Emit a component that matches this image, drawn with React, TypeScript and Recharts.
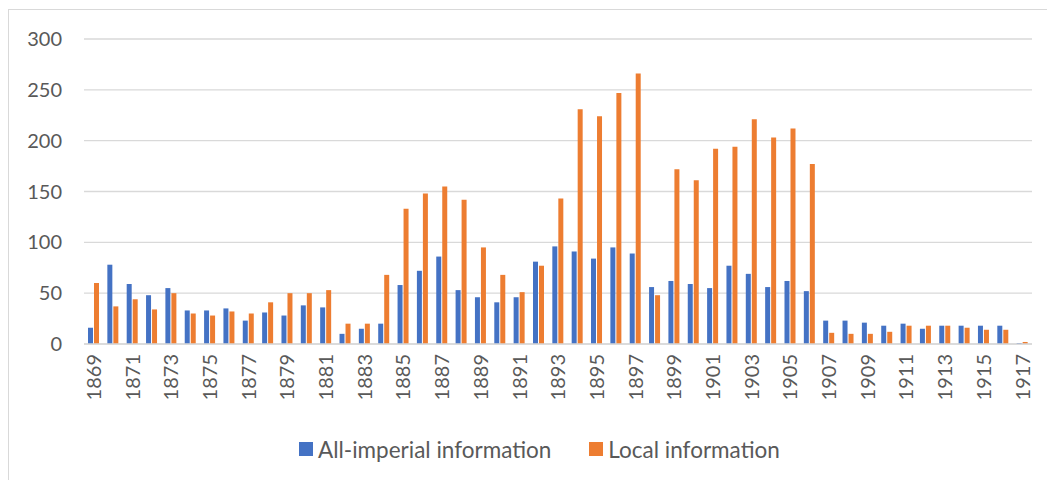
import React from "react";
import { BarChart, Bar, XAxis, YAxis, CartesianGrid } from "recharts";

const years = [
  "1869", "1870", "1871", "1872", "1873", "1874", "1875", "1876", "1877", "1878",
  "1879", "1880", "1881", "1882", "1883", "1884", "1885", "1886", "1887", "1888",
  "1889", "1890", "1891", "1892", "1893", "1894", "1895", "1896", "1897", "1898",
  "1899", "1900", "1901", "1902", "1903", "1904", "1905", "1906", "1907", "1908",
  "1909", "1910", "1911", "1912", "1913", "1914", "1915", "1916", "1917",
];

const allImperial = [
  16, 78, 59, 48, 55, 33, 33, 35, 23, 31,
  28, 38, 36, 10, 15, 20, 58, 72, 86, 53,
  46, 41, 46, 81, 96, 91, 84, 95, 89, 56,
  62, 59, 55, 77, 69, 56, 62, 52, 23, 23,
  21, 18, 20, 15, 18, 18, 18, 18, 1,
];

const local = [
  60, 37, 44, 34, 50, 30, 28, 32, 30, 41,
  50, 50, 53, 20, 20, 68, 133, 148, 155, 142,
  95, 68, 51, 77, 143, 231, 224, 247, 266, 48,
  172, 161, 192, 194, 221, 203, 212, 177, 11, 10,
  10, 12, 18, 18, 18, 16, 14, 14, 2,
];

const yTicks = [0, 50, 100, 150, 200, 250, 300];

const BLUE = "#4472C4";
const ORANGE = "#ED7D31";
const FONT = "Lato, 'Liberation Sans', sans-serif";

const data = years.map((y, i) => ({
  year: y,
  imperial: allImperial[i],
  local: local[i],
}));

function YearTick(props: any) {
  const { x, y, payload } = props;
  return (
    <g transform={`translate(${x},${y})`}>
      <text
        transform="rotate(-90)"
        x={-8}
        y={0}
        dy="0.36em"
        textAnchor="end"
        fill="#595959"
        fontSize={20}
        fontFamily={FONT}
      >
        {payload.value}
      </text>
    </g>
  );
}

function LegendBox() {
  const item = (color: string, label: string, gap: number) => (
    <div style={{ display: "flex", alignItems: "center", marginRight: gap }}>
      <span
        style={{ width: 14, height: 14, background: color, marginRight: 5, display: "inline-block" }}
      />
      <span>{label}</span>
    </div>
  );
  return (
    <div
      style={{
        position: "absolute",
        top: 435,
        left: 299,
        height: 28,
        display: "flex",
        alignItems: "center",
        fontFamily: FONT,
        fontSize: 22.5,
        color: "#595959",
        whiteSpace: "nowrap",
      }}
    >
      {item(BLUE, "All-imperial information", 38)}
      {item(ORANGE, "Local information", 0)}
    </div>
  );
}

export default function App() {
  return (
    <div
      style={{
        position: "fixed",
        left: 0,
        top: 0,
        width: 1047,
        height: 480,
        background: "#fff",
        overflow: "hidden",
      }}
    >
      <div
        style={{
          position: "absolute",
          left: 8,
          top: 9,
          width: 1100,
          height: 600,
          border: "1px solid #d9d9d9",
        }}
      />
      <div style={{ position: "absolute", left: 0, top: 0 }}>
        <BarChart
          width={1047}
          height={480}
          data={data}
          margin={{ top: 39, right: 15, bottom: 44, left: 0 }}
          barSize={5}
          barGap={1}
        >
          <CartesianGrid vertical={false} stroke="#d9d9d9" strokeWidth={1.3} />
          <XAxis
            dataKey="year"
            interval={1}
            height={92}
            tickLine={false}
            tickSize={0}
            axisLine={{ stroke: "#d9d9d9", strokeWidth: 1.5 }}
            tick={<YearTick />}
          />
          <YAxis
            width={84}
            domain={[0, 300]}
            ticks={yTicks}
            tickLine={false}
            axisLine={false}
            tickSize={0}
            tickMargin={22}
            tick={{ fill: "#595959", fontSize: 20, fontFamily: FONT }}
          />
          <Bar dataKey="imperial" fill={BLUE} isAnimationActive={false} />
          <Bar dataKey="local" fill={ORANGE} isAnimationActive={false} />
        </BarChart>
      </div>
      <LegendBox />
    </div>
  );
}
